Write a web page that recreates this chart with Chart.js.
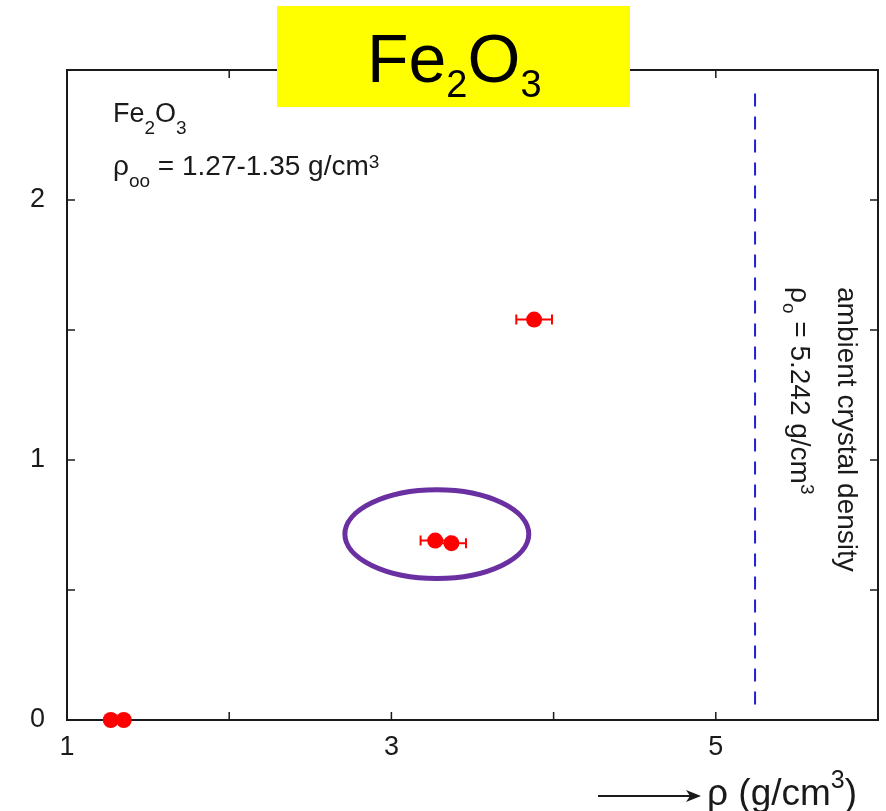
<!DOCTYPE html>
<html>
<head>
<meta charset="utf-8">
<script src="https://cdn.jsdelivr.net/npm/chart.js@4.4.1/dist/chart.umd.min.js"></script>
<style>
  html, body { margin: 0; padding: 0; background: #fff; }
  #wrap { width: 886px; height: 811px; }
</style>
</head>
<body>
<div id="wrap"><canvas id="chart" width="886" height="811"></canvas></div>
<script>
// measured densities (g/cm3), y values and horizontal error bars
const rhoValues = [1.27, 1.35, 3.27, 3.37, 3.88];
const yValues = [0, 0, 0.69, 0.68, 1.54];
const rhoErrors = [0, 0, 0.09, 0.09, 0.11];

// ambient crystal density marker line
const crystalDensity = 5.242;
const crystalLineY = [0.06, 2.44];

// highlighted cluster (ellipse, data units)
const clusterCenter = [3.28, 0.715];
const clusterRadius = [0.567, 0.171];

// labelled ticks
const xTickLabels = [1, 3, 5];
const yTickLabels = [0, 1, 2];

const FONT = "'Liberation Sans', Arial, Helvetica, sans-serif";
const INK = '#1a1a1a';

/**
 * Draw a run of text pieces: [text, size, dy]
 */
function drawRich(ctx, parts, x, y) {
  parts.forEach(([t, size, dy]) => {
    ctx.font = size + 'px ' + FONT;
    ctx.fillText(t, x, y + dy);
    x += ctx.measureText(t).width;
  });
  return x;
}

const framePlugin = {
  id: 'frame',
  beforeDatasetsDraw(chart) {
    const { ctx, chartArea: a, scales: { x, y } } = chart;
    ctx.save();
    ctx.strokeStyle = INK;
    ctx.lineWidth = 2;
    ctx.strokeRect(a.left, a.top, a.right - a.left, a.bottom - a.top);

    // inward ticks on all four sides
    ctx.lineWidth = 1.5;
    ctx.beginPath();
    for (let v = 1; v <= 6; v += 1) {
      const px = x.getPixelForValue(v);
      ctx.moveTo(px, a.bottom); ctx.lineTo(px, a.bottom - 8);
      ctx.moveTo(px, a.top); ctx.lineTo(px, a.top + 8);
    }
    for (let v = 0; v <= 2.5; v += 0.5) {
      const py = y.getPixelForValue(v);
      ctx.moveTo(a.left, py); ctx.lineTo(a.left + 8, py);
      ctx.moveTo(a.right, py); ctx.lineTo(a.right - 8, py);
    }
    ctx.stroke();

    // horizontal error bars
    ctx.strokeStyle = '#ff0000';
    ctx.lineWidth = 2;
    rhoValues.forEach((rho, i) => {
      const err = rhoErrors[i];
      if (!err) return;
      const py = y.getPixelForValue(yValues[i]);
      const x0 = x.getPixelForValue(rho - err);
      const x1 = x.getPixelForValue(rho + err);
      ctx.beginPath();
      ctx.moveTo(x0, py); ctx.lineTo(x1, py);
      ctx.moveTo(x0, py - 5); ctx.lineTo(x0, py + 5);
      ctx.moveTo(x1, py - 5); ctx.lineTo(x1, py + 5);
      ctx.stroke();
    });
    ctx.restore();
  },
  afterDatasetsDraw(chart) {
    const { ctx, scales: { x, y } } = chart;
    ctx.save();

    // cluster ellipse
    const cx = x.getPixelForValue(clusterCenter[0]);
    const cy = y.getPixelForValue(clusterCenter[1]);
    const rx = x.getPixelForValue(clusterCenter[0] + clusterRadius[0]) - cx;
    const ry = cy - y.getPixelForValue(clusterCenter[1] + clusterRadius[1]);
    ctx.strokeStyle = '#6a2fa0';
    ctx.lineWidth = 5;
    ctx.beginPath();
    ctx.ellipse(cx, cy, rx, ry, 0, 0, Math.PI * 2);
    ctx.stroke();

    ctx.fillStyle = INK;
    ctx.textAlign = 'left';
    ctx.textBaseline = 'alphabetic';

    // annotation inside the plot
    drawRich(ctx, [['Fe', 27, 0], ['2', 19, 12], ['O', 27, 0], ['3', 19, 12]], 113, 122);
    drawRich(ctx, [['\u03C1', 28, 0], ['oo', 19, 12], [' = 1.27-1.35 g/cm', 28, 0], ['3', 19, -7]], 113, 175);

    // rotated label next to the dashed line
    ctx.save();
    ctx.translate(838, 287);
    ctx.rotate(Math.PI / 2);
    drawRich(ctx, [['ambient crystal density', 28, 0]], 0, 0);
    ctx.restore();
    ctx.save();
    ctx.translate(791, 287);
    ctx.rotate(Math.PI / 2);
    drawRich(ctx, [['\u03C1', 28, 0], ['o', 19, 8], [' = 5.242 g/cm', 28, 0], ['3', 19, -10]], 0, 0);
    ctx.restore();

    ctx.restore();
  },
  afterDraw(chart) {
    const { ctx } = chart;
    ctx.save();

    // x axis title with arrow
    ctx.strokeStyle = INK;
    ctx.fillStyle = INK;
    ctx.lineWidth = 2;
    ctx.beginPath();
    ctx.moveTo(598, 796); ctx.lineTo(690, 796);
    ctx.stroke();
    ctx.beginPath();
    ctx.moveTo(701, 796); ctx.lineTo(686, 790); ctx.lineTo(690, 796); ctx.lineTo(686, 802);
    ctx.closePath();
    ctx.fill();
    ctx.textBaseline = 'alphabetic';
    drawRich(ctx, [['\u03C1 (g/cm', 37, 0], ['3', 25, -17], [')', 37, 0]], 707, 805);

    // yellow title box
    ctx.fillStyle = '#ffff00';
    ctx.fillRect(277, 6, 353, 101);
    ctx.fillStyle = '#000';
    drawRich(ctx, [['Fe', 68, 0], ['2', 38, 15], ['O', 68, 0], ['3', 38, 15]], 367, 82);

    ctx.restore();
  }
};

const ctx = document.getElementById('chart').getContext('2d');

new Chart(ctx, {
  type: 'scatter',
  data: {
    datasets: [
      {
        label: 'Fe2O3',
        data: rhoValues.map((rho, i) => ({ x: rho, y: yValues[i] })),
        backgroundColor: '#ff0000',
        borderColor: '#ff0000',
        pointRadius: 8,
        pointHoverRadius: 8,
        borderWidth: 0,
        clip: false
      },
      {
        label: 'ambient crystal density',
        data: crystalLineY.map(v => ({ x: crystalDensity, y: v })),
        showLine: true,
        borderColor: '#2020d8',
        borderWidth: 2,
        borderDash: [13, 10],
        pointRadius: 0,
        pointHoverRadius: 0
      }
    ]
  },
  options: {
    responsive: false,
    devicePixelRatio: 1,
    animation: false,
    layout: { padding: { top: 70, right: 8, left: 0, bottom: 0 } },
    plugins: {
      legend: { display: false },
      tooltip: { enabled: false }
    },
    scales: {
      x: {
        type: 'linear',
        min: 1,
        max: 6,
        grid: { display: false, drawTicks: false },
        border: { display: false },
        ticks: {
          stepSize: 1,
          padding: 11,
          color: INK,
          font: { family: FONT, size: 27 },
          callback: v => xTickLabels.includes(v) ? String(v) : ''
        },
        afterFit: scale => {
          scale.height = 91;
          scale.paddingLeft = 0;
          scale.paddingRight = 0;
        }
      },
      y: {
        type: 'linear',
        min: 0,
        max: 2.5,
        grid: { display: false, drawTicks: false },
        border: { display: false },
        ticks: {
          stepSize: 0.5,
          padding: 22,
          color: INK,
          font: { family: FONT, size: 27 },
          callback: v => yTickLabels.includes(v) ? String(v) : ''
        },
        afterFit: scale => { scale.width = 67; }
      }
    }
  },
  plugins: [framePlugin]
});
</script>
</body>
</html>
